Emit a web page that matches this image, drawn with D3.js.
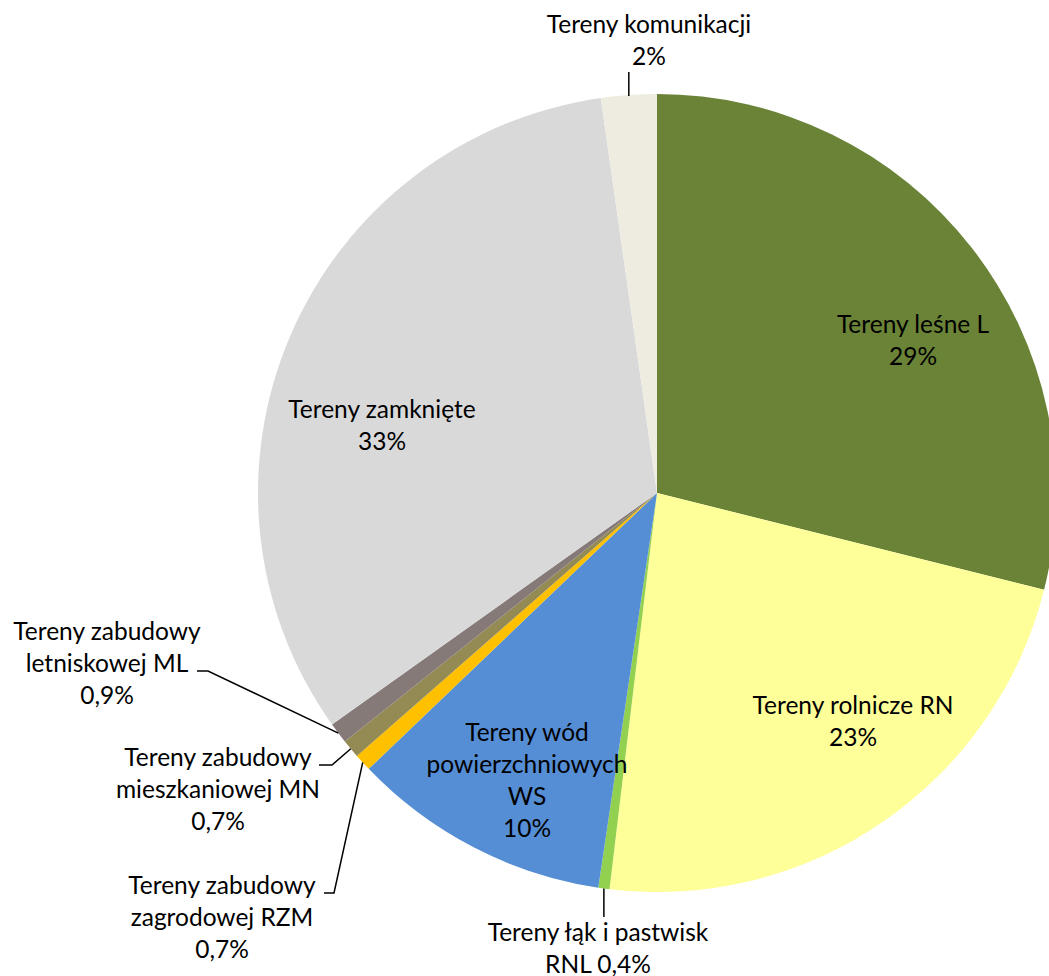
<!DOCTYPE html>
<html>
<head>
<meta charset="utf-8">
<script src="https://cdn.jsdelivr.net/npm/d3@7"></script>
<style>
body{margin:0;background:#fff;overflow:hidden}
text{font-family:Lato,"Open Sans",sans-serif;font-size:24.5px;fill:#000}
</style>
</head>
<body>
<div id="chart"></div>
<script>
// dane z wykresu (udzial w %)
var categories = ["Tereny leśne L","Tereny rolnicze RN","Tereny łąk i pastwisk RNL","Tereny wód powierzchniowych WS",
	"Tereny zabudowy zagrodowej RZM","Tereny zabudowy mieszkaniowej MN","Tereny zabudowy letniskowej ML",
	"Tereny zamknięte","Tereny komunikacji"]
var values = [28.9,23.0,0.45,10.5,0.7,0.75,0.85,32.6,2.25]
var labels = [["Tereny leśne L","29%"],["Tereny rolnicze RN","23%"],["Tereny łąk i pastwisk","RNL 0,4%"],
	["Tereny wód","powierzchniowych","WS","10%"],["Tereny zabudowy","zagrodowej RZM","0,7%"],
	["Tereny zabudowy","mieszkaniowej MN","0,7%"],["Tereny zabudowy","letniskowej ML","0,9%"],
	["Tereny zamknięte","33%"],["Tereny komunikacji","2%"]]
var colors = ["#6a8337","#ffff99","#92d050","#558ed5","#ffc000","#948a54","#857a78","#d9d9d9","#eeece1"]

var width = 1049, height = 976
var cx = 657, cy = 493, radius = 399
var lineH = 32

// polozenie etykiet (srodek pierwszej linii) i ewentualny lamany odnosnik
var labelPos = [
	{x:913,y:333},
	{x:853,y:714},
	{x:598,y:941,leader:"v"},
	{x:527,y:741},
	{x:222,y:894,leader:"h",row:0,hx:[324,334]},
	{x:218,y:766,leader:"h",row:0,hx:[319,332]},
	{x:107,y:640,leader:"h",row:1,hx:[197,208]}, 
	{x:382,y:418},
	{x:649,y:33,leader:"v"}
]

var svg = d3.select("#chart").append("svg")
	.attr("width",width).attr("height",height)

var pie = d3.pie().sort(null).value(function(d){return d})
var arcs = pie(values)
var arc = d3.arc().innerRadius(0).outerRadius(radius)

var g = svg.append("g").attr("transform","translate("+cx+","+cy+")")
g.selectAll(".slice")
	.data(arcs)
	.enter()
	.append("path")
	.attr("class","slice")
	.attr("d",arc)
	.attr("fill",function(d,i){return colors[i]})

// odnosniki
arcs.forEach(function(d,i){
	var p = labelPos[i]
	if(!p.leader) return
	var mid = (d.startAngle+d.endAngle)/2
	var ex = cx + Math.sin(mid)*radius
	var ey = cy - Math.cos(mid)*radius
	var pts
	if(p.leader=="v"){
		if(ey<cy){ pts=[[ex,ey+1],[ex,p.y+lineH+7]] }
		else { pts=[[ex,ey],[ex,p.y-24]] }
	}else{
		var ly = p.y+lineH*p.row-1
		pts=[[p.hx[0],ly],[p.hx[1],ly],[ex,ey]]
	}
	svg.append("path")
		.attr("d",d3.line()(pts))
		.attr("fill","none")
		.attr("stroke","#000")
		.attr("stroke-width",1.5)
})

// etykiety
labels.forEach(function(lines,i){
	var p = labelPos[i]
	var t = svg.append("text").attr("text-anchor","middle")
	lines.forEach(function(s,j){
		t.append("tspan").attr("x",p.x).attr("y",p.y+j*lineH).text(s)
	})
})
</script>
</body>
</html>
